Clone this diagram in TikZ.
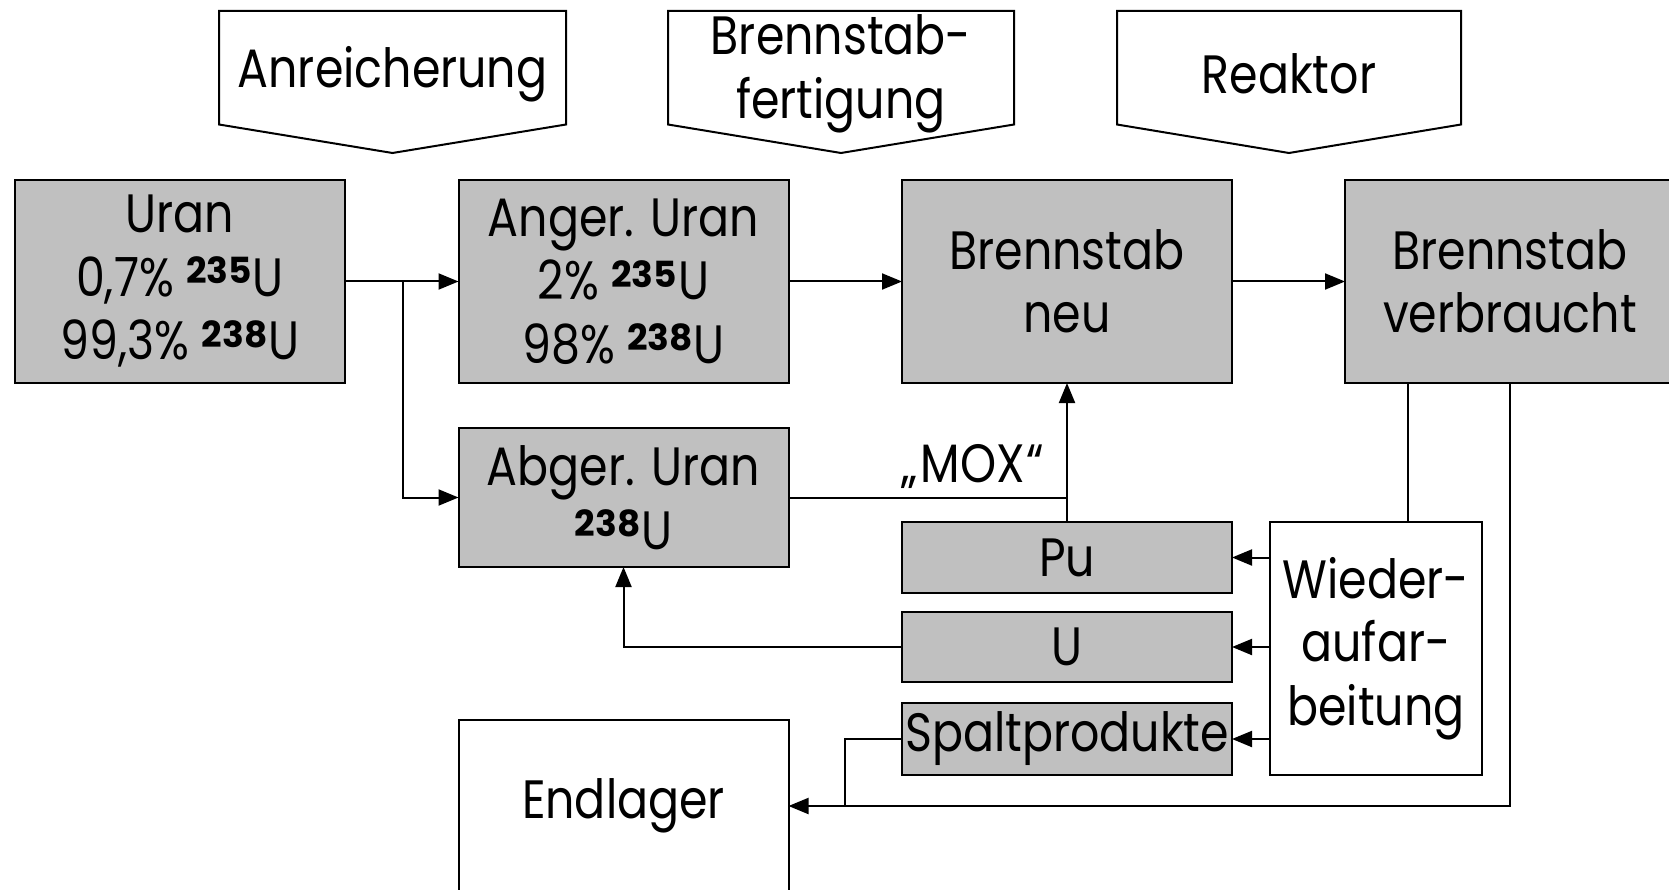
\documentclass[tikz,border=0pt]{standalone}
\usepackage{fontspec}
\setmainfont{Poppins}[FakeStretch=0.85]
\newfontfamily\isofont{Poppins}
\usetikzlibrary{arrows.meta,calc}
\definecolor{boxgrey}{HTML}{C0C0C0}
% mass number set small, bold and raised to cap height
\newcommand\iso[1]{\raisebox{12.5pt}{\isofont\fontsize{36}{36}\selectfont\bfseries #1}\kern1pt}

\begin{document}
\begin{tikzpicture}[x=1pt,y=-1pt,
  txt/.style={font=\fontsize{54}{63.5}\selectfont,align=center,inner sep=0pt},
  box/.style={txt,draw,line width=2pt,minimum width=330pt,outer sep=0pt},
  grey/.style={box,fill=boxgrey},
  link/.style={line width=2pt},
  arr/.style={link,-{Triangle[length=20pt,width=16pt]}},
  banner/.style={line width=2pt,line join=miter}
]
\useasboundingbox (0,0) rectangle (1669,890);

% stage banners
\draw[banner] (219,11) -- (566,11) -- (566,124.5) -- (392.5,153) -- (219,124.5) -- cycle;
\draw[banner] (668,11) -- (1014,11) -- (1014,124.5) -- (841,153) -- (668,124.5) -- cycle;
\draw[banner] (1117,11) -- (1461,11) -- (1461,124.5) -- (1289,153) -- (1117,124.5) -- cycle;
\node[txt] (anr) at (392.5,74) {Anreicherung};
\node[txt] (fert) at (841,74) {Brennstab-\\fertigung};
\node[txt] (reak) at (1289,74) {Reaktor};

% material boxes
\node[grey,minimum height=203pt] (uran) at (180,281.5) {Uran\\0,7\% \iso{235}U\\99,3\% \iso{238}U};
\node[grey,minimum height=203pt] (anger) at (623.5,281.5) {Anger. Uran\\2\% \iso{235}U\\98\% \iso{238}U};
\node[grey,minimum height=203pt] (neu) at (1067,281.5) {Brennstab\\neu};
\node[grey,minimum height=203pt] (verb) at (1510,281.5) {Brennstab\\verbraucht};
\node[grey,minimum height=139pt] (abger) at (623.5,497.5) {Abger. Uran\\\iso{238}U};
\node[grey,minimum height=71pt] (pu) at (1067,557.5) {Pu};
\node[grey,minimum height=70pt] (u) at (1067,647) {U};
\node[grey,minimum height=72pt] (sp) at (1067,739) {Spaltprodukte};
\node[box,minimum width=212pt,minimum height=253pt] (wa) at (1376,648.5) {Wieder-\\aufar-\\beitung};
\node[box,minimum height=172pt] (endl) at (623.5,806) {Endlager};

% flows
\coordinate (fork) at (403,281.5);
\coordinate (spjoin) at (845,806);
\draw[arr] (uran.east) -- (anger.west);
\draw[arr] (fork) |- (abger.west);
\draw[arr] (anger.east) -- (neu.west);
\draw[arr] (neu.east) -- (verb.west);
\draw[link] (abger.east) -- (abger.east -| pu.north);
\draw[arr] (pu.north) -- (neu.south);
\node[txt] (mox) at (973,466) {„\kern3pt MOX\kern2pt“};
\draw[link] ([xshift=-102pt]verb.south) -- ([xshift=-102pt]verb.south |- wa.north);
\draw[arr] (verb.south) |- (endl.east);
\draw[arr] (wa.west |- pu.east) -- (pu.east);
\draw[arr] (wa.west |- u.east) -- (u.east);
\draw[arr] (wa.west |- sp.east) -- (sp.east);
\draw[arr] (u.west) -| (abger.south);
\draw[link] (sp.west) -| (spjoin);
\end{tikzpicture}
\end{document}
